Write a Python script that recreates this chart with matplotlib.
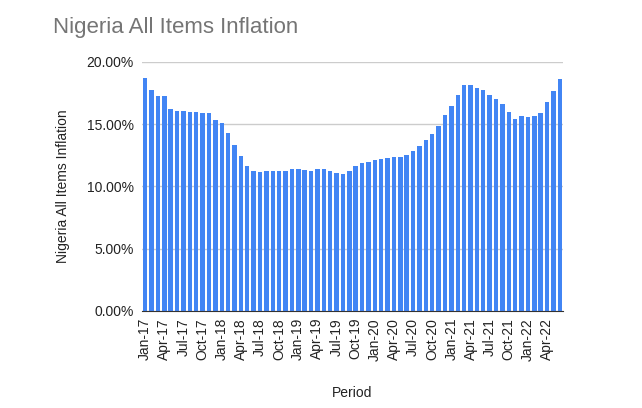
import numpy as np
import matplotlib
matplotlib.use("Agg")
import matplotlib.pyplot as plt
from matplotlib.ticker import FuncFormatter

plt.rcParams['font.family'] = ['Liberation Sans', 'DejaVu Sans']

# monthly headline inflation, Jan-17 .. Jun-22 (%)
months = ['Jan', 'Feb', 'Mar', 'Apr', 'May', 'Jun',
          'Jul', 'Aug', 'Sep', 'Oct', 'Nov', 'Dec']
years = [17, 18, 19, 20, 21, 22]
periods = [f"{m}-{y}" for y in years for m in months][:66]

inflation = [
    18.72, 17.78, 17.26, 17.24, 16.25, 16.10, 16.05, 16.01, 15.98, 15.91, 15.90, 15.37,
    15.13, 14.33, 13.34, 12.48, 11.61, 11.23, 11.14, 11.23, 11.28, 11.26, 11.28, 11.44,
    11.37, 11.31, 11.25, 11.37, 11.40, 11.22, 11.08, 11.02, 11.24, 11.61, 11.85, 11.98,
    12.13, 12.20, 12.26, 12.34, 12.40, 12.56, 12.82, 13.22, 13.71, 14.23, 14.89, 15.75,
    16.47, 17.33, 18.17, 18.12, 17.93, 17.75, 17.38, 17.01, 16.63, 15.99, 15.40, 15.63,
    15.60, 15.70, 15.92, 16.82, 17.71, 18.60,
]

fig = plt.figure(figsize=(6.42, 4.08), dpi=100)
ax = fig.add_axes([142 / 642, 1 - 311 / 408, 421 / 642, 249 / 408])

x = np.arange(len(inflation))
ax.bar(x, inflation, width=0.7, color='#4285F4', zorder=3)

ax.set_xlim(-0.5, len(inflation) - 0.5)
ax.set_ylim(0, 20)
ax.set_yticks([0, 5, 10, 15, 20])
ax.yaxis.set_major_formatter(FuncFormatter(lambda v, p: f"{v:.2f}%"))
ax.set_xticks(x[::3])
ax.set_xticklabels(periods[::3], rotation=90, fontsize=10, color='#222222')
ax.tick_params(axis='y', labelsize=10, labelcolor='#222222', length=0, pad=6)
ax.tick_params(axis='x', length=0, pad=5)

ax.grid(axis='y', color='#cccccc', linewidth=1, zorder=0)
for s in ['top', 'right', 'left']:
    ax.spines[s].set_visible(False)
ax.spines['bottom'].set_color('#333333')
ax.spines['bottom'].set_zorder(4)

ax.set_ylabel('Nigeria All Items Inflation', fontsize=10, color='#222222', labelpad=12)
ax.set_xlabel('Period', fontsize=10, color='#222222', labelpad=18)

fig.text(53 / 642, 1 - 28 / 408, 'Nigeria All Items Inflation', fontsize=16,
         color='#757575', va='center', ha='left')

fig.savefig('out.png', dpi=100)
